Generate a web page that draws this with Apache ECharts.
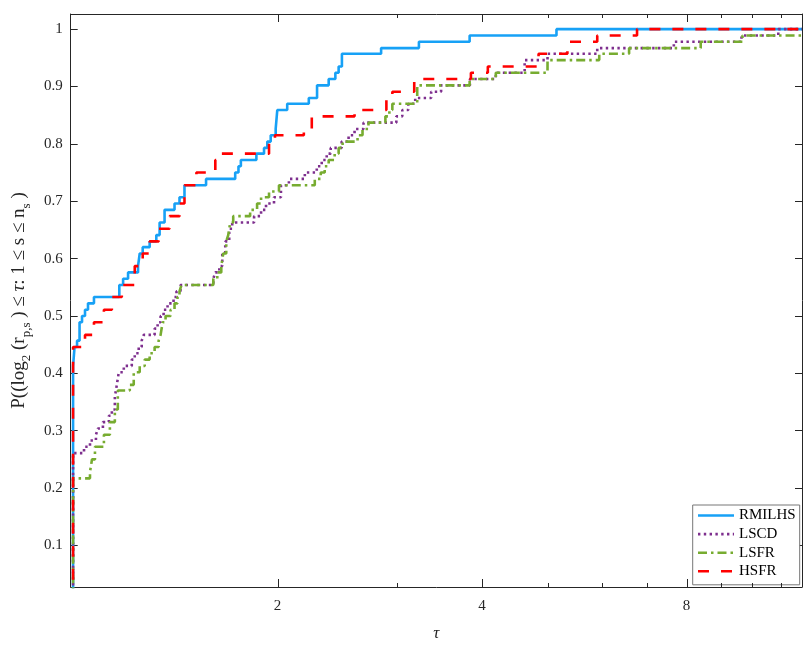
<!DOCTYPE html>
<html>
<head>
<meta charset="utf-8">
<title>Performance profile</title>
<script src="https://cdn.jsdelivr.net/npm/echarts@6/dist/echarts.min.js"></script>
<style>
  html, body { margin: 0; padding: 0; background: #fff; }
  #main { width: 805px; height: 647px; }
</style>
</head>
<body>
<div id="main"></div>
<script>
// 坐标轴范围（横轴为 log2 刻度）
var xMin = 0.992, xMax = 11.83;
var yMin = 0.0276, yMax = 1.0264;
var xMajorTicks = [2, 4, 8];
var xMinorTicks = [3, 5, 6, 7, 9, 10, 11];
var yTicks = [0.1, 0.2, 0.3, 0.4, 0.5, 0.6, 0.7, 0.8, 0.9, 1];

// RMILHS
var tauRMILHS = [1, 1, 1.0051, 1.0136, 1.0222, 1.0308, 1.0413, 1.0519, 1.0734, 1.1697, 1.1848, 1.2049, 1.2463, 1.2534, 1.2662, 1.2964, 1.3260, 1.3409, 1.3636, 1.4104, 1.4344, 1.4588, 1.5695, 1.7324, 1.7518, 1.7660, 1.8614, 1.9103, 1.9317, 1.9540, 1.9872, 1.9980, 2.0664, 2.2233, 2.2864, 2.3783, 2.4327, 2.4599, 2.4874, 2.8408, 3.2291, 3.8348, 5.1473];
var pRMILHS = [0, .413, .446, .457, .489, .500, .511, .522, .533, .554, .565, .576, .587, .609, .620, .630, .641, .663, .685, .696, .707, .728, .739, .750, .761, .772, .783, .793, .804, .815, .826, .859, .870, .880, .902, .913, .924, .935, .957, .967, .978, .989, 1];

// LSCD
var tauLSCD = [1, 1, 1.0378, 1.0590, 1.0806, 1.0879, 1.1064, 1.1290, 1.1405, 1.1521, 1.1599, 1.1677, 1.1876, 1.2201, 1.2325, 1.2492, 1.2619, 1.2704, 1.3184, 1.3318, 1.3454, 1.3591, 1.3775, 1.4057, 1.4199, 1.4392, 1.6086, 1.6195, 1.6414, 1.6581, 1.6750, 1.6977, 1.7150, 1.8470, 1.8912, 1.9233, 1.9759, 2.0230, 2.0783, 2.1936, 2.2841, 2.3229, 2.3624, 2.3945, 2.4850, 2.5443, 2.5963, 2.6763, 2.9912, 3.0523, 3.1147, 3.1890, 3.3658, 3.4812, 3.8387, 4.1903, 4.6208, 4.9934, 5.9101, 7.6617, 9.6366, 10.917];
var pLSCD = [0, .261, .272, .283, .293, .304, .315, .326, .337, .359, .380, .402, .413, .424, .435, .446, .457, .467, .478, .489, .500, .511, .522, .533, .543, .554, .565, .576, .587, .609, .630, .652, .663, .674, .685, .696, .707, .728, .739, .750, .761, .772, .783, .793, .804, .815, .826, .837, .848, .859, .870, .880, .891, .902, .913, .924, .946, .957, .967, .978, .989, 1];

// LSFR
var tauLSFR = [1, 1, 1.0590, 1.0662, 1.0770, 1.1102, 1.1329, 1.1521, 1.1638, 1.2119, 1.2283, 1.2534, 1.2748, 1.2964, 1.3184, 1.3364, 1.3454, 1.3545, 1.3682, 1.3915, 1.4104, 1.4247, 1.4344, 1.4441, 1.6086, 1.6304, 1.6526, 1.6638, 1.6807, 1.6920, 1.7035, 1.7208, 1.8223, 1.8658, 1.8912, 1.9429, 2.0095, 2.2688, 2.3151, 2.3465, 2.3783, 2.4270, 2.4599, 2.4933, 2.6226, 2.6673, 2.7218, 2.8823, 2.9214, 2.9511, 3.2106, 3.8348, 4.1903, 4.9934, 5.9501, 6.5835, 8.3924, 9.6685];
var pLSFR = [0, .217, .228, .250, .272, .293, .315, .337, .370, .380, .402, .413, .424, .435, .446, .457, .467, .489, .500, .511, .522, .533, .543, .554, .565, .576, .587, .609, .630, .641, .663, .674, .685, .696, .707, .717, .728, .739, .750, .761, .772, .783, .793, .804, .815, .826, .837, .848, .859, .870, .902, .913, .924, .946, .957, .967, .978, .989];

// HSFR
var tauHSFR = [1, 1, 1.0413, 1.0734, 1.1102, 1.1405, 1.1796, 1.2325, 1.2662, 1.2964, 1.3364, 1.3868, 1.4344, 1.4588, 1.5190, 1.6195, 1.6526, 1.9429, 1.9826, 2.1862, 2.2459, 2.5963, 2.8920, 2.9511, 3.1783, 3.8516, 4.0788, 4.8441, 5.3415, 5.9101, 6.7634];
var pHSFR = [0, .446, .467, .489, .511, .533, .554, .587, .609, .630, .652, .674, .696, .728, .750, .772, .783, .804, .815, .826, .848, .859, .880, .891, .913, .924, .935, .957, .978, .989, 1];

var axisColor = '#262626';
var serif = 'Liberation Serif';

// 把 tau / p 组成点，并延长到右边界
function toPoints(tau, p) {
  var pts = tau.map(function (t, i) { return [t, p[i]]; });
  pts.push([xMax, p[p.length - 1]]);
  return pts;
}

function lineSeries(name, tau, p, color, dash) {
  return {
    name: name,
    type: 'line',
    step: 'end',
    symbol: 'none',
    data: toPoints(tau, p),
    lineStyle: { color: color, width: 2.6, type: dash, cap: 'butt' },
    itemStyle: { color: color },
    clip: true
  };
}

// x 轴刻度（上下两边），位置由坐标系换算
function tickSeries(values, len) {
  return {
    type: 'custom',
    silent: true,
    z: 6,
    clip: false,
    data: values.map(function (v) { return [v, yMin]; }),
    renderItem: function (params, api) {
      var x = Math.round(api.coord([api.value(0), api.value(1)])[0]) + 0.5;
      var cs = params.coordSys;
      var st = { stroke: axisColor, lineWidth: 1 };
      var yb = Math.round(cs.y + cs.height);
      var yt = Math.round(cs.y);
      return {
        type: 'group',
        children: [
          { type: 'line', shape: { x1: x, y1: yb, x2: x, y2: yb - len }, style: st },
          { type: 'line', shape: { x1: x, y1: yt, x2: x, y2: yt + len }, style: st }
        ]
      };
    }
  };
}

var myChart = echarts.init(document.getElementById('main'), null, { renderer: 'canvas' });

var option = {
  animation: false,
  backgroundColor: '#fff',
  grid: { left: 70.7, top: 14, width: 735.3, height: 579.3, containLabel: false },
  legend: {
    data: ['RMILHS', 'LSCD', 'LSFR', 'HSFR'],
    orient: 'vertical',
    left: 692.7,
    top: 505,
    padding: [3, 4, 6, 4],
    itemGap: 3.6,
    itemWidth: 36,
    itemHeight: 14,
    backgroundColor: '#fff',
    borderColor: '#777',
    borderWidth: 1,
    borderRadius: 0,
    itemStyle: { opacity: 0, borderWidth: 0 },   // 只要线，不要圆点
    lineStyle: { width: 2.6 },
    textStyle: { fontFamily: serif, fontSize: 15, color: '#000' }
  },
  xAxis: [
    {
      type: 'log',
      logBase: 2,
      min: xMin,
      max: xMax,
      position: 'bottom',
      name: 'τ',
      nameLocation: 'middle',
      nameGap: 38,
      nameTextStyle: { fontFamily: serif, fontSize: 17, fontStyle: 'italic', color: axisColor },
      axisLine: { show: true, lineStyle: { color: axisColor, width: 1 } },
      axisTick: { show: false },
      axisLabel: {
        margin: 12,
        fontFamily: serif,
        fontSize: 15,
        color: axisColor,
        formatter: function (v) {
          for (var i = 0; i < xMajorTicks.length; i++) {
            if (Math.abs(v - xMajorTicks[i]) < 1e-6) return String(xMajorTicks[i]);
          }
          return '';
        }
      },
      splitLine: { show: false }
    },
    {
      type: 'log',
      logBase: 2,
      min: xMin,
      max: xMax,
      position: 'top',
      axisLine: { show: true, lineStyle: { color: axisColor, width: 1 } },
      axisTick: { show: false },
      axisLabel: { show: false },
      splitLine: { show: false }
    }
  ],
  yAxis: [
    {
      type: 'value',
      min: yMin,
      max: yMax,
      position: 'left',
      name: '{n|P((log}{s|2}{n| (r}{s|p,s}{n| ) ≤ }{i|τ}{n|: 1 ≤ s ≤ n}{s|s}{n| )}',
      nameLocation: 'middle',
      nameGap: 38,
      nameRotate: 90,
      nameTextStyle: {
        color: axisColor,
        rich: {
          n: { fontFamily: serif, fontSize: 19, color: axisColor, lineHeight: 28 },
          i: { fontFamily: serif, fontSize: 19, fontStyle: 'italic', color: axisColor, lineHeight: 28 },
          s: { fontFamily: serif, fontSize: 13, color: axisColor, verticalAlign: 'bottom', lineHeight: 28 }
        }
      },
      axisLine: { show: true, lineStyle: { color: axisColor, width: 1 } },
      axisTick: { show: true, inside: true, length: 7, customValues: yTicks, lineStyle: { color: axisColor } },
      axisLabel: { margin: 8, fontFamily: serif, fontSize: 15, color: axisColor, customValues: yTicks },
      splitLine: { show: false }
    },
    {
      type: 'value',
      min: yMin,
      max: yMax,
      position: 'right',
      axisLine: { show: true, lineStyle: { color: axisColor, width: 1 } },
      axisTick: { show: true, inside: true, length: 7, customValues: yTicks, lineStyle: { color: axisColor } },
      axisLabel: { show: false },
      splitLine: { show: false }
    }
  ],
  series: [
    lineSeries('RMILHS', tauRMILHS, pRMILHS, '#17A1F6', 'solid'),
    lineSeries('LSCD', tauLSCD, pLSCD, '#7E2F8E', [2.4, 3.4]),
    lineSeries('LSFR', tauLSFR, pLSFR, '#77AC30', [9, 4, 2.5, 4]),
    lineSeries('HSFR', tauHSFR, pHSFR, '#FF0000', [11, 12]),
    tickSeries(xMajorTicks, 8),
    tickSeries(xMinorTicks, 4)
  ]
};

myChart.setOption(option);
</script>
</body>
</html>
